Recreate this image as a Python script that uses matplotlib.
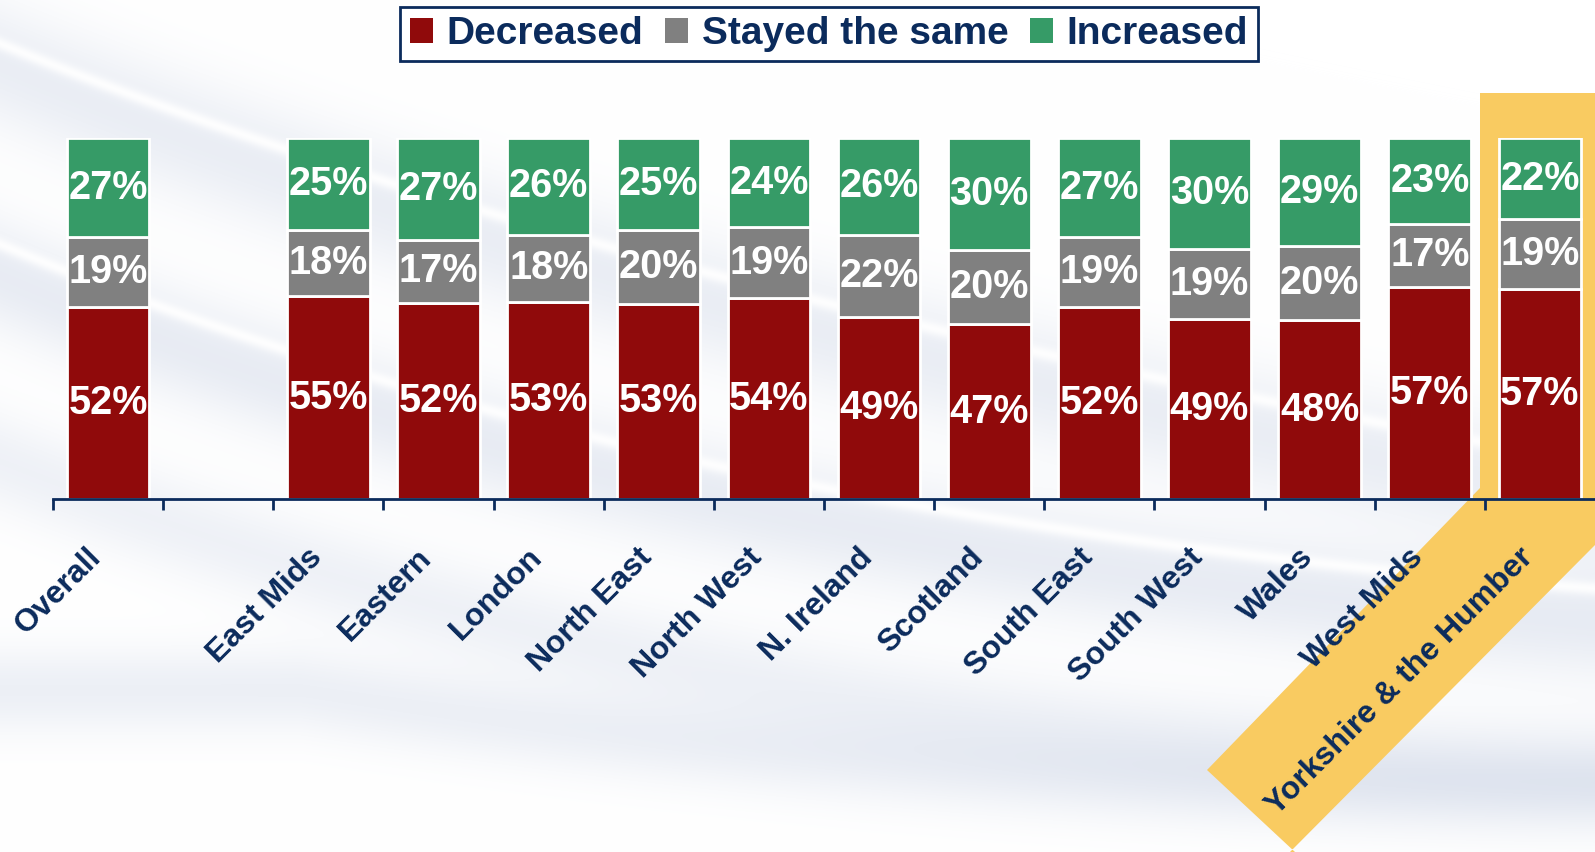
import numpy as np
import matplotlib.pyplot as plt
from matplotlib.patches import Polygon, Patch

plt.rcParams['font.family'] = ['Liberation Sans', 'DejaVu Sans']

categories = ['Overall', 'East Mids', 'Eastern', 'London', 'North East', 'North West',
              'N. Ireland', 'Scotland', 'South East', 'South West', 'Wales', 'West Mids',
              'Yorkshire & the Humber']
decreased = [52, 55, 52, 53, 53, 54, 49, 47, 52, 49, 48, 57, 57]
same = [19, 18, 17, 18, 20, 19, 22, 20, 19, 19, 20, 17, 19]
increased = [27, 25, 27, 26, 25, 24, 26, 30, 27, 30, 29, 23, 22]
series_names = ['Decreased', 'Stayed the same', 'Increased']

RED = '#900a0b'
GREY = '#808080'
GREEN = '#369b67'
NAVY = '#0b2b5c'
GOLD = '#f9cb61'

W, H = 1595, 852
fig = plt.figure(figsize=(W / 100, H / 100), dpi=100)
fig.patch.set_facecolor('white')

# soft swoosh background: gaussian shading around a few curves, as an image
bg = fig.add_axes([0, 0, 1, 1], zorder=-2)
bg.axis('off')
t = np.linspace(0, 1, 400)
xx = np.arange(W)
yy = np.arange(H)[:, None]


def curve_y(p0, p1, p2):
    p0, p1, p2 = map(np.array, (p0, p1, p2))
    pts = ((1 - t) ** 2)[:, None] * p0 + (2 * (1 - t) * t)[:, None] * p1 + (t ** 2)[:, None] * p2
    return np.interp(xx, pts[:, 0], pts[:, 1])


shade = np.zeros((H, W))
for (p0, p1, p2, sig, amp) in [
    ((-100, 20), (500, 300), (1700, 520), 45, 0.45),
    ((-100, 230), (600, 560), (1700, 630), 40, 0.5),
    ((-100, 420), (700, 760), (1700, 770), 35, 0.35),
    ((300, 690), (1000, 800), (1700, 790), 30, 0.4),
]:
    cy = curve_y(p0, p1, p2)[None, :]
    shade += amp * np.exp(-0.5 * ((yy - cy) / sig) ** 2)
for (p0, p1, p2, sig) in [
    ((-100, 0), (520, 280), (1700, 480), 5),
    ((-100, 200), (620, 530), (1700, 595), 5),
]:
    cy = curve_y(p0, p1, p2)[None, :]
    shade *= 1 - 0.9 * np.exp(-0.5 * ((yy - cy) / sig) ** 2)
shade = np.clip(shade, 0, 1)
base = np.array([1.0, 1.0, 1.0])
tint = np.array([0.82, 0.85, 0.91])
img = base[None, None, :] * (1 - shade[..., None]) + tint[None, None, :] * shade[..., None]
bg.imshow(img, aspect='auto', extent=(0, W, H, 0), interpolation='bilinear')
bg.set_xlim(0, W)
bg.set_ylim(H, 0)

ax = fig.add_axes([53 / W, 1 - 499 / H, (W - 53) / W, (499 - 138) / H])
ax.patch.set_alpha(0)

# leave one empty slot after "Overall"
pos = np.array([0] + list(range(2, len(categories) + 1)), dtype=float)
vals = np.array([decreased, same, increased], dtype=float)
shares = vals / vals.sum(axis=0)

# gold highlight behind the last region
hl = np.array([(1480, 93), (1595, 93), (1595, 545), (1290, 852), (1295, 852),
               (1207, 770), (1480, 488)])
hl_fig = np.column_stack([hl[:, 0] / W, 1 - hl[:, 1] / H])
ax.add_patch(Polygon(hl_fig, closed=True, transform=fig.transFigure, facecolor=GOLD,
                     edgecolor='none', zorder=0.5, clip_on=False))

bottom = np.zeros(len(categories))
for s, (name, col) in enumerate(zip(series_names, [RED, GREY, GREEN])):
    ax.bar(pos, shares[s], 0.75, bottom=bottom, color=col, edgecolor='white',
           linewidth=2, zorder=2)
    for xi, b, h, v in zip(pos, bottom, shares[s], vals[s]):
        ax.text(xi, b + h / 2, f'{v:.0f}%', ha='center', va='center', color='white',
                fontsize=28.5, fontweight='bold', zorder=3)
    bottom += shares[s]

ax.set_xlim(-0.5, 13.5)
ax.set_ylim(0, 1)
for sp in ['top', 'right', 'left']:
    ax.spines[sp].set_visible(False)
ax.spines['bottom'].set_color(NAVY)
ax.spines['bottom'].set_linewidth(2)
ax.set_yticks([])
ax.set_xticks(np.arange(-0.5, 13, 1))
ax.set_xticklabels([])
ax.tick_params(axis='x', direction='out', length=8, width=2, color=NAVY)

trans = ax.get_xaxis_transform()
for xi, lab in zip(pos, categories):
    ax.text(xi - 0.1, -0.15, lab, transform=trans, rotation=45, rotation_mode='anchor',
            ha='right', va='center', color=NAVY, fontsize=23, fontweight='bold', zorder=3)

handles = [Patch(facecolor=c, edgecolor='none') for c in [RED, GREY, GREEN]]
leg = fig.legend(handles, series_names, loc='center', bbox_to_anchor=(829 / W, 1 - 34 / H),
                 ncol=3, frameon=True, fancybox=False, edgecolor=NAVY, framealpha=1,
                 handlelength=0.6, handleheight=0.6, handletextpad=0.35,
                 columnspacing=0.55, borderpad=0.24, borderaxespad=0,
                 prop={'size': 28, 'weight': 'bold'})
leg.get_frame().set_linewidth(2)
for txt in leg.get_texts():
    txt.set_color(NAVY)

fig.savefig('out.png', dpi=100)
